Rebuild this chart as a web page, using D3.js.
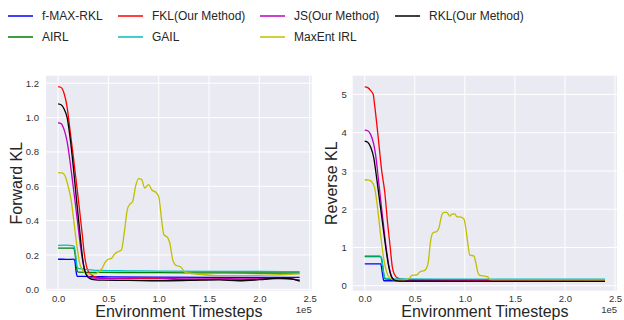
<!DOCTYPE html>
<html>
<head>
<meta charset="utf-8">
<script src="https://cdn.jsdelivr.net/npm/d3@7"></script>
<style>
  body { margin: 0; background: #fff; }
  svg { display: block; font-family: "Liberation Sans", Arial, sans-serif; }
</style>
</head>
<body>
<svg id="chart" width="624" height="320"></svg>
<script>
// series in plot order (x in units of 1e5 steps)
const names = ['f-MAX-RKL', 'AIRL', 'FKL(Our Method)', 'GAIL', 'JS(Our Method)', 'MaxEnt IRL', 'RKL(Our Method)'];
const colors = ['#0000ff', '#008000', '#ff0000', '#00bfbf', '#bf00bf', '#bfbf00', '#000000'];

const xTicks = [0, 0.5, 1, 1.5, 2, 2.5];
const fwdTicks = [0, 0.2, 0.4, 0.6, 0.8, 1.0, 1.2];
const revTicks = [0, 1, 2, 3, 4, 5];

// Forward KL
const fwdFmax = [[0,0.175],[0.05,0.175],[0.1,0.174],[0.15,0.176],[0.165,0.17],[0.18,0.1],[0.19,0.076],[0.25,0.075],[0.5,0.073],[1.0,0.071],[1.5,0.07],[2.0,0.07],[2.4,0.07]];
const fwdAirl = [[0,0.24],[0.08,0.24],[0.155,0.24],[0.17,0.2],[0.185,0.12],[0.2,0.1],[0.3,0.099],[0.6,0.098],[1.0,0.097],[1.5,0.096],[2.0,0.095],[2.4,0.095]];
const fwdFkl = [[0,1.18],[0.03,1.175],[0.06,1.14],[0.09,1.06],[0.12,0.92],[0.15,0.78],[0.18,0.63],[0.21,0.48],[0.24,0.32],[0.26,0.21],[0.28,0.14],[0.3,0.105],[0.33,0.085],[0.37,0.072],[0.45,0.065],[0.6,0.062],[0.8,0.063],[1.0,0.062],[1.2,0.058],[1.4,0.056],[1.6,0.06],[1.8,0.058],[2.0,0.06],[2.2,0.062],[2.4,0.055]];
const fwdGail = [[0,0.256],[0.08,0.257],[0.14,0.255],[0.16,0.25],[0.175,0.2],[0.19,0.13],[0.21,0.12],[0.3,0.115],[0.4,0.11],[0.7,0.108],[1.0,0.106],[1.5,0.104],[2.0,0.104],[2.4,0.103]];
const fwdJs = [[0,0.97],[0.03,0.965],[0.06,0.93],[0.09,0.86],[0.12,0.74],[0.15,0.6],[0.18,0.46],[0.21,0.31],[0.24,0.18],[0.27,0.1],[0.3,0.075],[0.35,0.066],[0.5,0.064],[0.7,0.066],[0.9,0.068],[1.1,0.064],[1.3,0.06],[1.5,0.06],[1.7,0.062],[1.9,0.06],[2.1,0.064],[2.3,0.062],[2.4,0.05]];
const fwdMaxent = [[0,0.68],[0.04,0.678],[0.07,0.66],[0.1,0.6],[0.13,0.52],[0.16,0.38],[0.19,0.24],[0.22,0.14],[0.26,0.1],[0.3,0.09],[0.36,0.09],[0.4,0.1],[0.44,0.125],[0.47,0.16],[0.5,0.175],[0.53,0.18],[0.56,0.205],[0.6,0.22],[0.63,0.23],[0.66,0.34],[0.69,0.47],[0.72,0.5],[0.74,0.51],[0.77,0.6],[0.8,0.645],[0.83,0.64],[0.86,0.59],[0.88,0.6],[0.9,0.61],[0.93,0.58],[0.97,0.565],[1.0,0.54],[1.03,0.4],[1.05,0.32],[1.09,0.3],[1.11,0.27],[1.14,0.17],[1.17,0.14],[1.22,0.13],[1.26,0.1],[1.3,0.095],[1.45,0.085],[1.6,0.08],[1.8,0.08],[2.0,0.082],[2.2,0.085],[2.4,0.09]];
const fwdRkl = [[0,1.08],[0.03,1.075],[0.06,1.05],[0.09,1.0],[0.12,0.88],[0.15,0.72],[0.18,0.54],[0.21,0.37],[0.24,0.2],[0.26,0.12],[0.28,0.085],[0.31,0.065],[0.35,0.057],[0.45,0.053],[0.7,0.052],[1.0,0.05],[1.3,0.052],[1.6,0.055],[1.8,0.05],[2.0,0.056],[2.2,0.065],[2.3,0.062],[2.4,0.048]];

// Reverse KL
const revFmax = [[0,0.57],[0.08,0.57],[0.16,0.57],[0.175,0.35],[0.19,0.13],[0.3,0.13],[1.0,0.13],[2.4,0.13]];
const revAirl = [[0,0.76],[0.08,0.76],[0.16,0.76],[0.18,0.5],[0.2,0.18],[0.3,0.16],[1.0,0.16],[2.4,0.16]];
const revFkl = [[0,5.2],[0.03,5.18],[0.06,5.1],[0.085,5.0],[0.1,4.7],[0.13,4.0],[0.17,3.0],[0.2,2.45],[0.23,1.6],[0.255,1.0],[0.275,0.5],[0.3,0.28],[0.33,0.2],[0.4,0.16],[0.8,0.15],[1.6,0.14],[2.4,0.13]];
const revGail = [[0,0.78],[0.08,0.78],[0.15,0.78],[0.17,0.72],[0.19,0.3],[0.21,0.19],[0.3,0.18],[1.0,0.17],[2.4,0.17]];
const revJs = [[0,4.07],[0.03,4.05],[0.06,3.95],[0.09,3.7],[0.11,3.4],[0.14,2.7],[0.17,2.0],[0.2,1.3],[0.23,0.7],[0.26,0.3],[0.29,0.16],[0.33,0.13],[0.5,0.12],[1.0,0.12],[2.4,0.12]];
const revMaxent = [[0,2.77],[0.04,2.76],[0.07,2.72],[0.1,2.55],[0.13,2.0],[0.16,1.3],[0.19,0.7],[0.22,0.35],[0.25,0.2],[0.3,0.15],[0.4,0.15],[0.45,0.2],[0.47,0.27],[0.52,0.28],[0.55,0.36],[0.6,0.4],[0.63,0.55],[0.66,1.2],[0.68,1.38],[0.72,1.42],[0.74,1.5],[0.77,1.85],[0.79,1.92],[0.82,1.92],[0.85,1.82],[0.87,1.87],[0.9,1.88],[0.92,1.8],[0.95,1.8],[0.99,1.75],[1.01,1.5],[1.03,1.1],[1.05,0.8],[1.09,0.78],[1.11,0.6],[1.13,0.35],[1.15,0.27],[1.2,0.25],[1.23,0.23],[1.25,0.16],[1.3,0.155],[2.4,0.15]];
const revRkl = [[0,3.78],[0.03,3.75],[0.06,3.62],[0.09,3.35],[0.12,2.8],[0.15,2.2],[0.18,1.6],[0.21,1.0],[0.24,0.5],[0.27,0.22],[0.3,0.14],[0.35,0.12],[1.0,0.115],[2.4,0.115]];

const fwdSeries = [fwdFmax, fwdAirl, fwdFkl, fwdGail, fwdJs, fwdMaxent, fwdRkl];
const revSeries = [revFmax, revAirl, revFkl, revGail, revJs, revMaxent, revRkl];

const svg = d3.select('#chart');
const plotTop = 75.7, plotBottom = 290.7;

function drawPanel(opts) {
  const x = d3.scaleLinear().domain([-0.12, 2.52]).range([opts.left, opts.right]);
  const y = d3.scaleLinear().domain(opts.yDomain).range([plotBottom, plotTop]);
  const g = svg.append('g');

  g.append('rect')
    .attr('x', opts.left).attr('y', plotTop)
    .attr('width', opts.right - opts.left).attr('height', plotBottom - plotTop)
    .attr('fill', '#eaeaf2');

  // grid
  g.selectAll('.gx').data(xTicks).join('line')
    .attr('class', 'gx')
    .attr('x1', d => x(d)).attr('x2', d => x(d))
    .attr('y1', plotTop).attr('y2', plotBottom)
    .attr('stroke', '#fff').attr('stroke-width', 1);
  g.selectAll('.gy').data(opts.yTicks).join('line')
    .attr('class', 'gy')
    .attr('x1', opts.left).attr('x2', opts.right)
    .attr('y1', d => y(d)).attr('y2', d => y(d))
    .attr('stroke', '#fff').attr('stroke-width', 1);

  // axes (no spines, seaborn style)
  const xAxis = g.append('g')
    .attr('transform', `translate(0, ${plotBottom})`)
    .call(d3.axisBottom(x).tickValues(xTicks).tickFormat(d3.format('.1f')).tickSize(0).tickPadding(5));
  const yAxis = g.append('g')
    .attr('transform', `translate(${opts.left}, 0)`)
    .call(d3.axisLeft(y).tickValues(opts.yTicks).tickFormat(opts.yFormat).tickSize(0).tickPadding(opts.yPad));
  [xAxis, yAxis].forEach(a => {
    a.select('.domain').remove();
    a.selectAll('text').attr('fill', '#333').attr('font-size', 9.5)
      .attr('font-family', '"Liberation Sans", Arial, sans-serif');
  });

  const line = d3.line()
    .x(d => x(d[0]))
    .y(d => y(d[1]))
    .curve(d3.curveMonotoneX);

  g.selectAll('.series').data(opts.series).join('path')
    .attr('class', 'series')
    .attr('d', line)
    .attr('fill', 'none')
    .attr('stroke', (d, i) => colors[i])
    .attr('stroke-width', 1.3)
    .attr('stroke-linejoin', 'round');

  // labels
  g.append('text')
    .attr('x', (opts.left + opts.right) / 2).attr('y', 317)
    .attr('text-anchor', 'middle').attr('font-size', 16).attr('fill', '#262626')
    .text('Environment Timesteps');
  g.append('text')
    .attr('x', opts.right).attr('y', 313)
    .attr('text-anchor', 'end').attr('font-size', 9.5).attr('fill', '#333')
    .text('1e5');
  g.append('text')
    .attr('transform', `translate(${opts.labelX}, ${(plotTop + plotBottom) / 2}) rotate(-90)`)
    .attr('text-anchor', 'middle').attr('font-size', 16).attr('fill', '#262626')
    .text(opts.yLabel);
}

drawPanel({
  left: 46, right: 311.7, yDomain: [-0.008, 1.244], yTicks: fwdTicks,
  yFormat: d3.format('.1f'), yPad: 7, series: fwdSeries, yLabel: 'Forward KL', labelX: 22
});
drawPanel({
  left: 352.7, right: 617, yDomain: [-0.13, 5.49], yTicks: revTicks,
  yFormat: d3.format('d'), yPad: 6, series: revSeries, yLabel: 'Reverse KL', labelX: 337
});

// legend: 4 columns, filled column-wise
const legCols = [8, 118, 260, 395];
const legRows = [16, 37];
const leg = svg.append('g');
names.forEach((n, i) => {
  const cx = legCols[Math.floor(i / 2)], cy = legRows[i % 2];
  leg.append('line')
    .attr('x1', cx).attr('x2', cx + 25).attr('y1', cy).attr('y2', cy)
    .attr('stroke', colors[i]).attr('stroke-width', 1.5);
  leg.append('text')
    .attr('x', cx + 34).attr('y', cy).attr('dy', '0.35em')
    .attr('font-size', 12).attr('fill', '#262626')
    .text(n);
});
</script>
</body>
</html>
